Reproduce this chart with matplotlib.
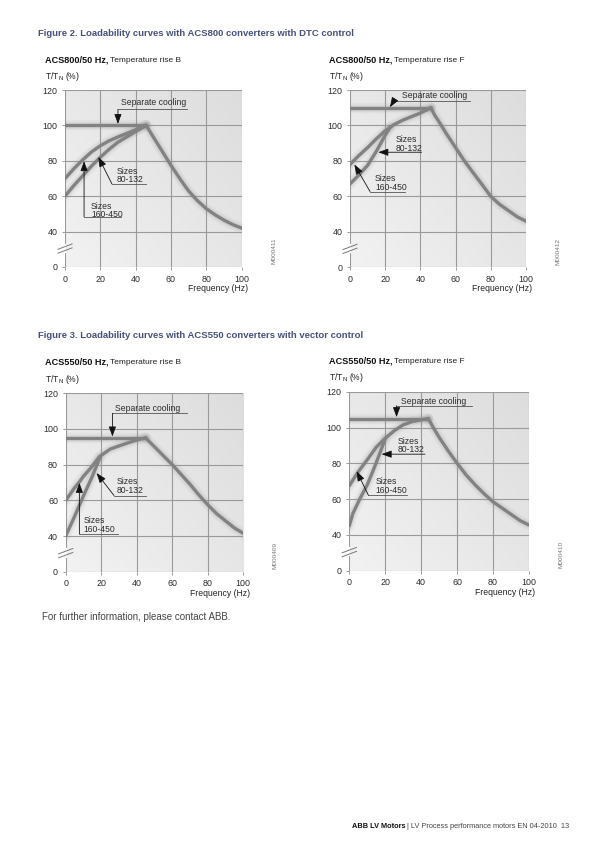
import numpy as np
import matplotlib
matplotlib.use('Agg')
import matplotlib.pyplot as plt
from matplotlib import font_manager

plt.rcParams['font.family'] = ['Liberation Sans', 'DejaVu Sans']

W, H = 600, 848

# ---------------- data ----------------
x_ticks = [0, 20, 40, 60, 80, 100]
x_tick_labels = ['0', '20', '40', '60', '80', '100']
y_ticks = [20, 40, 60, 80, 100, 120]          # position 20 carries the broken-axis "0"
y_tick_labels = ['0', '40', '60', '80', '100', '120']

# ACS800, temperature rise B
acs800b_sep_f = [0, 46]
acs800b_sep_t = [100, 100]
acs800b_desc_f = [46, 50, 55, 60, 65, 70, 75, 80, 85, 90, 95, 100]
acs800b_desc_t = [100, 93.5, 85.5, 77.5, 70, 63, 57.5, 53, 49.5, 46.5, 44, 42]
acs800b_160_f = [0, 5, 10, 15, 20, 25, 30, 35, 40, 46]
acs800b_160_t = [70, 75.5, 80.5, 85, 88.5, 91.3, 93.5, 95.5, 97.5, 100]
acs800b_80_f = [0, 5, 10, 15, 20, 25, 30, 35, 40, 46]
acs800b_80_t = [60, 66, 71.5, 77, 82, 86.5, 90.5, 93.5, 96.5, 100]

# ACS800, temperature rise F
acs800f_sep_f = [0, 46]
acs800f_sep_t = [110, 110]
acs800f_desc_f = [46, 48, 50, 55, 60, 65, 70, 75, 80, 85, 90, 95, 100]
acs800f_desc_t = [110, 106, 103, 95, 87.5, 80, 73.3, 66.7, 60, 55.5, 52, 48.5, 46]
acs800f_160_f = [0, 5, 10, 15, 20, 25, 30, 35, 40, 46]
acs800f_160_t = [78, 83, 87.5, 92.5, 97, 100.5, 103, 105, 107, 110]
acs800f_80_f = [0, 5, 10, 15, 20, 23]
acs800f_80_t = [67, 72, 77.5, 85.5, 94.5, 99.2]

# ACS550, temperature rise B
acs550b_sep_f = [0, 45]
acs550b_sep_t = [95, 95]
acs550b_desc_f = [45, 50, 55, 60, 65, 70, 75, 80, 85, 90, 95, 100]
acs550b_desc_t = [95, 90, 85, 80, 74.5, 69, 63, 57.5, 52.5, 48.5, 44.5, 41.5]
acs550b_160_f = [0, 5, 8, 10, 14, 19, 25, 30, 35, 40, 45]
acs550b_160_t = [60, 67, 70.7, 73.5, 78, 84.5, 88.7, 90.5, 92.2, 93.8, 95]
acs550b_80_f = [0, 5, 10, 15, 19.3]
acs550b_80_t = [40, 51, 62.5, 73.5, 84]

# ACS550, temperature rise F
acs550f_sep_f = [0, 44]
acs550f_sep_t = [105, 105]
acs550f_desc_f = [44, 47, 50, 55, 60, 65, 70, 75, 80, 85, 90, 95, 100]
acs550f_desc_t = [105, 99.5, 94.5, 87, 80, 73.5, 68, 63, 58.5, 55, 51.5, 48, 45.5]
acs550f_160_f = [0, 5, 10, 15, 20, 25, 30, 35, 40, 44]
acs550f_160_t = [67.5, 75.3, 82, 89, 94, 98.2, 101.5, 103.3, 104.3, 105]
acs550f_80_f = [0, 2, 6, 10, 13.4, 17, 20]
acs550f_80_t = [45, 52, 60.4, 68, 76.3, 85.6, 93.8]

# ---------------- layout ----------------
fig = plt.figure(figsize=(W / 100, H / 100), dpi=100)
fig.patch.set_facecolor('white')

TITLE_C = '#47507c'
TXT_C = '#2b2b2b'
CURVE_C = '#828282'
GRID_C = '#9a9a9a'

installed = {f.name for f in font_manager.fontManager.ttflist}
NARROW = ['Liberation Sans Narrow', 'Liberation Sans'] if 'Liberation Sans Narrow' in installed \
    else ['Liberation Sans']
NARROW_SIZE = 6.5 if 'Liberation Sans Narrow' in installed else 6.0


def fx(px):
    return px / W


def fy(py):
    return 1 - py / H


def make_axes(x0, x1, ytop, ybot):
    return fig.add_axes([x0 / W, 1 - ybot / H, (x1 - x0) / W, (ybot - ytop) / H])


def curve(ax, f, t):
    ax.plot(f, t, color='#8a8a8a', lw=7.5, alpha=0.08, solid_capstyle='round', zorder=3)
    ax.plot(f, t, color='#8a8a8a', lw=4.8, alpha=0.12, solid_capstyle='round', zorder=3)
    ax.plot(f, t, color=CURVE_C, lw=2.4, solid_capstyle='round', solid_joinstyle='round', zorder=4)


def leader(ax, base, tip):
    ax.annotate('', xy=tip, xytext=base,
                arrowprops=dict(arrowstyle='-|>,head_length=0.6,head_width=0.22',
                                lw=0.6, color='#111111', shrinkA=0, shrinkB=0),
                zorder=6)


def label(ax, spec):
    ty = sum(spec['ty']) / len(spec['ty'])
    ax.text(spec['tx'], ty, '\n'.join(spec['lines']), ha=spec.get('ha', 'left'), va='center',
            fontsize=6.2, color=TXT_C, zorder=6, linespacing=0.95)
    if spec.get('ul') is not None:
        u0, u1, uy = spec['ul']
        ax.plot([u0, u1], [uy, uy], color='#555555', lw=0.6, zorder=5)
    leader(ax, spec['base'], spec['tip'])


def chart(box, series, labels, title_bold, title_reg, sub_xy, code):
    ax = make_axes(*box)
    # gradient background
    gx = np.linspace(0, 1, 200)
    gy = np.linspace(0, 1, 200)
    GX, GY = np.meshgrid(gx, gy)
    G = 0.55 * GX + 0.45 * GY
    shade = 0.95 - 0.085 * G
    img = np.dstack([shade, shade, shade])
    ax.imshow(img, extent=(0, 101.5, 20, 120), origin='lower', aspect='auto', zorder=0)
    ax.set_xlim(0, 100)
    ax.set_ylim(20, 120)
    for s in ax.spines.values():
        s.set_visible(False)
    ax.set_xticks(x_ticks)
    ax.set_xticklabels(x_tick_labels)
    ax.set_yticks(y_ticks)
    ax.set_yticklabels(y_tick_labels)
    ax.tick_params(axis='both', length=2.5, width=0.7, color=GRID_C, labelsize=6.4,
                   labelcolor=TXT_C, pad=3.0)
    ax.grid(True, color=GRID_C, lw=0.8, zorder=1)
    ax.set_axisbelow(True)
    for (f, t) in series:
        curve(ax, f, t)
    for spec in labels:
        label(ax, spec)
    # axis break marks
    ax.plot([0, 0], [0.085, 0.125], transform=ax.transAxes, color='white', lw=1.6,
            clip_on=False, zorder=6)
    for dy in (0.0, 0.022):
        ax.plot([-0.04, 0.04], [0.078 + dy, 0.108 + dy], transform=ax.transAxes,
                color='#777777', lw=0.7, clip_on=False, zorder=7)
    # texts around
    bx0, bx1, btop, bbot = box
    tb = fig.text(fx(sub_xy[0]), fy(sub_xy[1]), title_bold, fontsize=6.6, fontweight='bold',
                  color='#111111', va='center', ha='left')
    fig.canvas.draw()
    bb = tb.get_window_extent()
    fig.text(bb.x1 / W + 2.0 / W, fy(sub_xy[1]), title_reg, fontsize=NARROW_SIZE,
             family=NARROW, color='#222222', va='center', ha='left')
    fig.text(fx(sub_xy[0]), fy(sub_xy[1] + 16.5), r'T/T$_\mathregular{N}$ (%)', fontsize=6.2,
             color='#222222', va='center', ha='left')
    fig.text(fx(bx1 + 6.5), fy(bbot + 21.5), 'Frequency (Hz)', fontsize=6.2,
             color='#222222', va='center', ha='right')
    fig.text(fx(bx1 + 32), fy(bbot - 16), code, fontsize=4.6, color='#777777',
             rotation=90, va='center', ha='center')
    return ax


# --- Figure 2 ---
fig.text(fx(38), fy(33.5), 'Figure 2. Loadability curves with ACS800 converters with DTC control',
         fontsize=6.8, fontweight='bold', color=TITLE_C, va='center', ha='left')

chart((65, 241.5, 90, 267),
      [(acs800b_sep_f, acs800b_sep_t), (acs800b_desc_f, acs800b_desc_t),
       (acs800b_160_f, acs800b_160_t), (acs800b_80_f, acs800b_80_t)],
      [dict(lines=['Separate cooling'], tx=50.4, ty=[112.7], ha='center', ul=(30, 69, 109),
            base=(30, 109), tip=(30, 100.8)),
       dict(lines=['Sizes', '80-132'], tx=29.3, ty=[73.9, 69.5], ul=(26.6, 46, 66.9),
            base=(26.6, 66.9), tip=(18.9, 82.2)),
       dict(lines=['Sizes', '160-450'], tx=14.7, ty=[54.1, 49.8], ul=(10.8, 32, 48.4),
            base=(10.8, 48.4), tip=(10.8, 79.8))],
      'ACS800/50 Hz,', 'Temperature rise B', (45, 60), 'M000411')

chart((350, 526, 90, 267.3),
      [(acs800f_sep_f, acs800f_sep_t), (acs800f_desc_f, acs800f_desc_t),
       (acs800f_160_f, acs800f_160_t), (acs800f_80_f, acs800f_80_t)],
      [dict(lines=['Separate cooling'], tx=48, ty=[116.8], ha='center', ul=(25, 68.2, 114),
            base=(25, 114), tip=(22.7, 110.3)),
       dict(lines=['Sizes', '80-132'], tx=26.1, ty=[91.5, 87.6], ul=None,
            base=(40.7, 84.9), tip=(16.1, 84.9)),
       dict(lines=['Sizes', '160-450'], tx=14.2, ty=[69.6, 65.5], ul=(11.4, 31.3, 62.7),
            base=(11.4, 62.7), tip=(2.5, 78))],
      'ACS800/50 Hz,', 'Temperature rise F', (329, 60), 'M000412')

# --- Figure 3 ---
fig.text(fx(38), fy(336), 'Figure 3. Loadability curves with ACS550 converters with vector control',
         fontsize=6.8, fontweight='bold', color=TITLE_C, va='center', ha='left')

chart((65.7, 243.3, 393.3, 571.7),
      [(acs550b_sep_f, acs550b_sep_t), (acs550b_desc_f, acs550b_desc_t),
       (acs550b_160_f, acs550b_160_t), (acs550b_80_f, acs550b_80_t)],
      [dict(lines=['Separate cooling'], tx=46, ty=[111.4], ha='center', ul=(26.3, 68.1, 108.7),
            base=(26.3, 108.7), tip=(26.3, 95.8)),
       dict(lines=['Sizes', '80-132'], tx=28.7, ty=[70.3, 65.7], ul=(27.2, 45.2, 62.7),
            base=(27.2, 62.7), tip=(17.4, 75.3)),
       dict(lines=['Sizes', '160-450'], tx=9.9, ty=[48.4, 44.3], ul=(7.7, 29.6, 41.3),
            base=(7.7, 41.3), tip=(7.7, 69.8))],
      'ACS550/50 Hz,', 'Temperature rise B', (45, 362.5), 'M000409')

chart((349.3, 529, 391.7, 570.7),
      [(acs550f_sep_f, acs550f_sep_t), (acs550f_desc_f, acs550f_desc_t),
       (acs550f_160_f, acs550f_160_t), (acs550f_80_f, acs550f_80_t)],
      [dict(lines=['Separate cooling'], tx=47, ty=[114.8], ha='center', ul=(26.3, 68.1, 112.2),
            base=(26.3, 112.2), tip=(26.3, 105.8)),
       dict(lines=['Sizes', '80-132'], tx=26.7, ty=[92, 88], ul=None,
            base=(42.1, 85.1), tip=(18, 85.1)),
       dict(lines=['Sizes', '160-450'], tx=14.7, ty=[69.3, 65], ul=(10.6, 32.3, 62.2),
            base=(10.6, 62.2), tip=(4.1, 75.6))],
      'ACS550/50 Hz,', 'Temperature rise F', (329, 361.5), 'M000410')

fig.text(fx(42.5), fy(616.5), 'For further information, please contact ABB.', fontsize=7.0,
         color='#444444', va='center', ha='left')

# footer
ft1 = fig.text(fx(569), fy(826), '| LV Process performance motors EN 04-2010  13', fontsize=5.3,
               color='#444444', va='center', ha='right')
fig.canvas.draw()
bb = ft1.get_window_extent()
fig.text(bb.x0 / W - 0.002, fy(826), 'ABB LV Motors', fontsize=5.3,
         fontweight='bold', color='#111111', va='center', ha='right')

fig.savefig('out.png', dpi=100, facecolor='white')
